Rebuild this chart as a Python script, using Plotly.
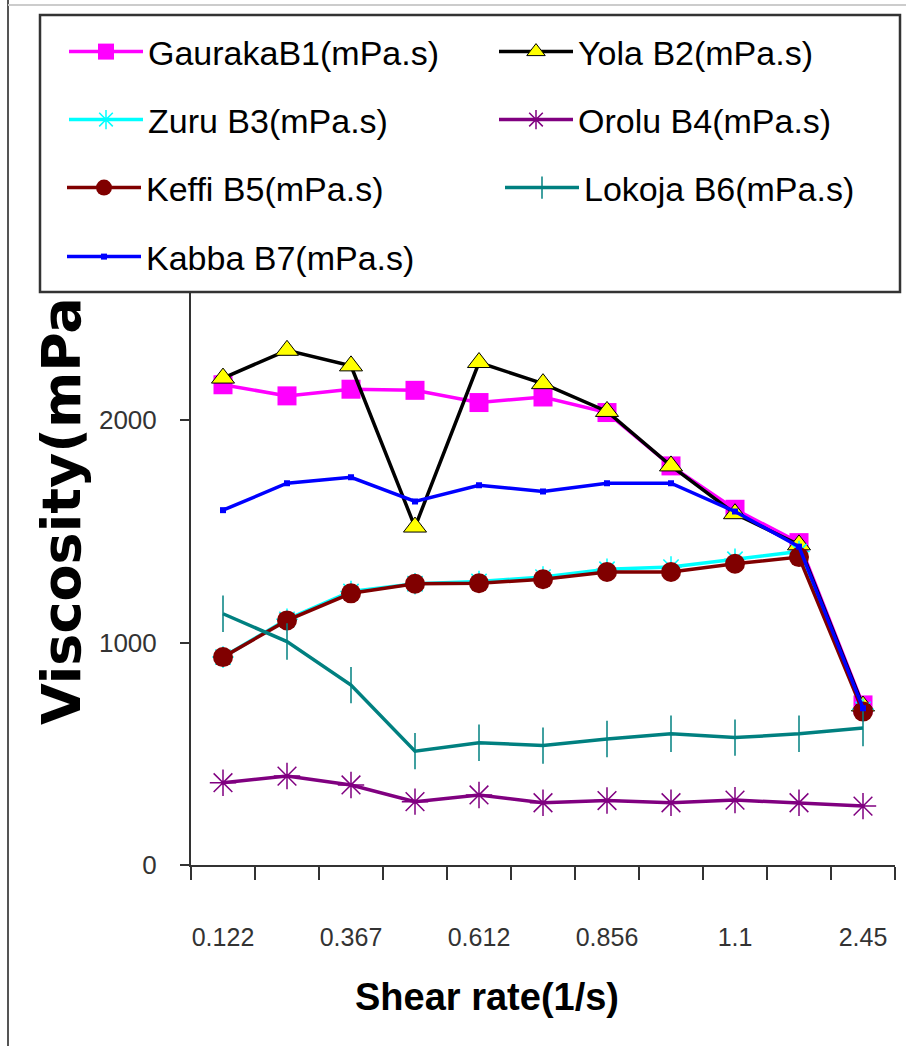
import plotly.graph_objects as go

W, H = 906, 1046
shear_rate = ["0.122", "0.245", "0.367", "0.49", "0.612", "0.734", "0.856", "0.979", "1.1", "1.22", "2.45"]
gauraka_b1 = [2160, 2110, 2140, 2135, 2080, 2105, 2035, 1795, 1600, 1450, 720]
yola_b2 = [2190, 2315, 2245, 1520, 2260, 2165, 2040, 1795, 1580, 1440, 715]
zuru_b3 = [935, 1105, 1230, 1265, 1275, 1295, 1330, 1340, 1375, 1410, 700]
orolu_b4 = [370, 400, 360, 285, 315, 280, 290, 280, 292, 280, 265]
keffi_b5 = [935, 1100, 1222, 1265, 1267, 1285, 1318, 1318, 1355, 1385, 690]
lokoja_b6 = [1130, 1005, 809, 512, 550, 537, 567, 590, 573, 590, 616]
kabba_b7 = [1596, 1717, 1744, 1635, 1708, 1680, 1717, 1717, 1590, 1432, 705]

tick_labels = [s if i % 2 == 0 else "" for i, s in enumerate(shear_rate)]
y_ticks = [0, 1000, 2000]

SANS = "Liberation Sans, Arial, sans-serif"

# plot-area pixel geometry
L, R, T, B = 191, 895, 198, 865

def px_x(p):
    return (p - L) / (R - L)

def px_y(p):
    return (B - p) / (B - T)

# (name, values, line, marker, legend x px, legend y px)
series = [
    ("GaurakaB1(mPa.s)", gauraka_b1, dict(color="#FF00FF", width=3.5),
     dict(symbol="square", size=19, color="#FF00FF"), 64, 52),
    ("Yola B2(mPa.s)", yola_b2, dict(color="#000000", width=3.5),
     dict(symbol="triangle-up", size=20, color="#FFFF00", line=dict(color="#000000", width=1)), 494, 52),
    ("Zuru B3(mPa.s)", zuru_b3, dict(color="#00FFFF", width=3.5),
     dict(symbol="asterisk-open", size=18, color="#00FFFF", line=dict(color="#00FFFF", width=1.5)), 64, 120),
    ("Orolu B4(mPa.s)", orolu_b4, dict(color="#800080", width=3.5),
     dict(symbol="asterisk-open", size=22, color="#800080", line=dict(color="#800080", width=1.5)), 494, 120),
    ("Keffi B5(mPa.s)", keffi_b5, dict(color="#800000", width=3.5),
     dict(symbol="circle", size=20, color="#800000"), 62, 188),
    ("Lokoja B6(mPa.s)", lokoja_b6, dict(color="#008080", width=3.5),
     dict(symbol="line-ns-open", size=26, color="#008080", line=dict(color="#008080", width=1.5)), 500, 188),
    ("Kabba B7(mPa.s)", kabba_b7, dict(color="#0000FF", width=3.5),
     dict(symbol="square", size=6, color="#0000FF"), 62, 257),
]

fig = go.Figure()
legend_layouts = {}
for i, (name, vals, line, marker, lx, ly) in enumerate(series):
    key = "legend" if i == 0 else f"legend{i + 1}"
    fig.add_trace(go.Scatter(x=shear_rate, y=vals, name=name, mode="lines+markers",
                             line=line, marker=marker, legend=key))
    legend_layouts[key] = dict(
        xref="container", yref="container", x=lx / W, y=1 - ly / H,
        xanchor="left", yanchor="middle", orientation="v",
        bgcolor="rgba(0,0,0,0)", borderwidth=0, itemwidth=74,
        font=dict(family=SANS, size=34, color="#000000"),
        itemclick=False, itemdoubleclick=False,
    )

shapes = [
    # legend box (white, covers top of plot)
    dict(type="rect", xref="paper", yref="paper", x0=px_x(40), x1=px_x(900), y0=px_y(292), y1=px_y(15),
         fillcolor="white", line=dict(color="#333333", width=2.5), layer="above"),
    # outer frame lines
    dict(type="line", xref="paper", yref="paper", x0=px_x(8), x1=px_x(8), y0=px_y(0), y1=px_y(1046),
         line=dict(color="#555555", width=2), layer="above"),
    dict(type="line", xref="paper", yref="paper", x0=px_x(8), x1=px_x(906), y0=px_y(5), y1=px_y(5),
         line=dict(color="#cccccc", width=2), layer="above"),
]

annotations = [
    dict(text="<b>Shear rate(1/s)</b>", xref="paper", yref="paper", x=px_x(487), y=px_y(997),
         xanchor="center", yanchor="middle", showarrow=False,
         font=dict(family=SANS, size=38, color="#000000")),
    dict(text="<b>Viscosity(mPa</b>", xref="paper", yref="paper", x=px_x(61), y=px_y(511),
         xanchor="center", yanchor="middle", showarrow=False, textangle=-90,
         font=dict(family="DejaVu Sans, sans-serif", size=54, color="#000000")),
]

fig.update_layout(
    width=W, height=H,
    margin=dict(l=L, r=W - R, t=T, b=H - B, pad=0, autoexpand=False),
    paper_bgcolor="white", plot_bgcolor="white",
    showlegend=True,
    shapes=shapes,
    annotations=annotations,
    xaxis=dict(type="category", categoryorder="array", categoryarray=shear_rate,
               tickmode="array", tickvals=shear_rate, ticktext=tick_labels, tickangle=0,
               tickson="boundaries", ticks="outside", ticklen=13, tickwidth=2, tickcolor="#333333",
               showline=True, linecolor="#333333", linewidth=2, showgrid=False, zeroline=False,
               tickfont=dict(family=SANS, size=25, color="#333333"), ticklabelstandoff=49,
               range=[-0.5, 10.5], automargin=False),
    yaxis=dict(range=[0, 3000], tickmode="array", tickvals=y_ticks, ticks="outside", ticklen=9,
               tickwidth=2, tickcolor="#333333",
               showline=True, linecolor="#333333", linewidth=2, showgrid=False, zeroline=False,
               tickfont=dict(family=SANS, size=26, color="#333333"), ticklabelstandoff=18,
               automargin=False),
    **legend_layouts,
)

fig.write_html("out.html")
